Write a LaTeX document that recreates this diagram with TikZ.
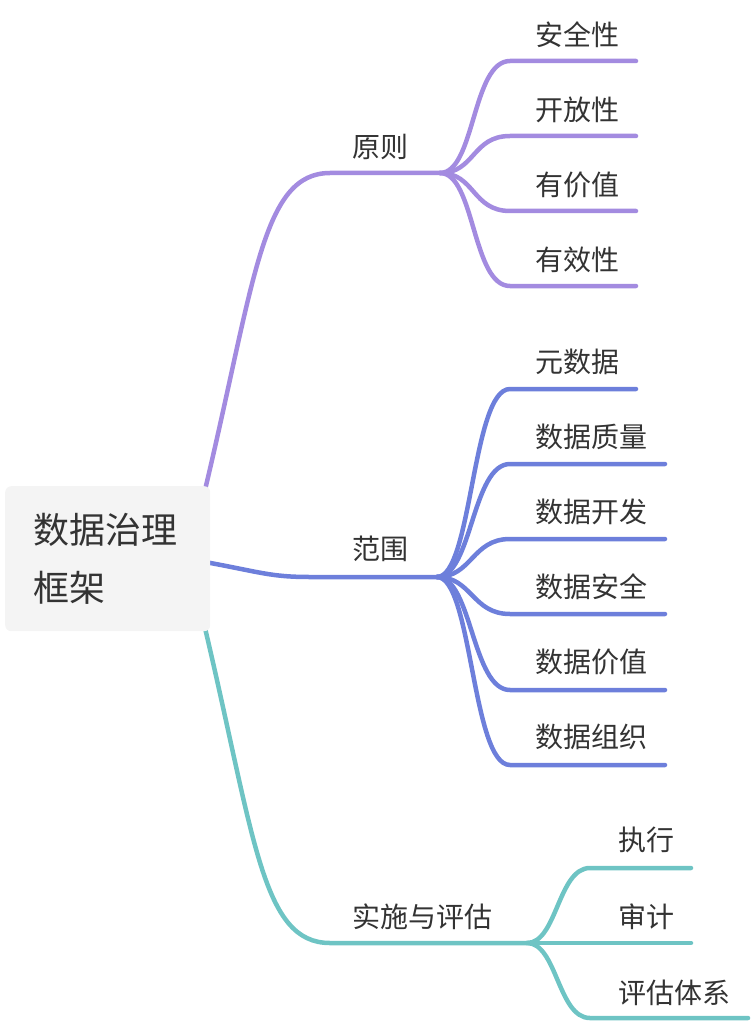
\documentclass[tikz,border=0pt]{standalone}
\usepackage{fontspec}
\setmainfont{Noto Sans CJK SC}
\definecolor{cP}{HTML}{A38BE0}
\definecolor{cB}{HTML}{6D7FDB}
\definecolor{cT}{HTML}{6EC4C4}
\definecolor{txt}{HTML}{333333}
\definecolor{rootfill}{HTML}{F4F4F4}
\begin{document}
\begin{tikzpicture}[x=1pt,y=-1pt,
  lbl/.style={anchor=west,inner sep=0pt,text=txt,font=\fontsize{28}{30}\selectfont,text height=23.2pt,text depth=2pt},
  blbl/.style={lbl,anchor=center},
  rlbl/.style={anchor=west,inner sep=0pt,text=txt,font=\fontsize{36}{40}\selectfont,text height=29.8pt,text depth=2.6pt},
  br/.style={line width=4.5pt,line cap=round},
  rootbox/.style={fill=rootfill,rounded corners=6pt,draw=none}]
\useasboundingbox (0,0) rectangle (752,1024);
% coordinates
\coordinate (rp) at (205,490);
\coordinate (rb) at (205,562);
\coordinate (rt) at (205,628);
\coordinate (hp) at (330,173);
\coordinate (jp) at (440,173);
\coordinate (hb) at (310,577);
\coordinate (jb) at (437,577);
\coordinate (ht) at (330,943);
\coordinate (jt) at (527,943);
% main branches
\draw[br,cP] (rp) .. controls (255,280) and (262,173) .. (hp) -- (jp);
\draw[br,cB] (rb) .. controls (260,572) and (270,577) .. (hb) -- (jb);
\draw[br,cT] (rt) .. controls (255,840) and (262,943) .. (ht) -- (jt);
% purple children
\foreach \n/\y/\e in {p1/61/636,p2/136/636,p3/211/636,p4/286/636}{
  \coordinate (\n s) at (510,\y);
  \coordinate (\n e) at (\e,\y);
  \draw[br,cP] (jp) .. controls +(35,0) and +(-38,0) .. (\n s) -- (\n e);
}
% blue children
\foreach \n/\y/\e in {b1/389/636,b2/464/665,b3/539/665,b4/614/665,b5/690/665,b6/765/665}{
  \coordinate (\n s) at (510,\y);
  \coordinate (\n e) at (\e,\y);
  \draw[br,cB] (jb) .. controls +(35,0) and +(-38,0) .. (\n s) -- (\n e);
}
% teal children
\foreach \n/\y/\e in {t1/868/691,t2/943/691,t3/1018/748}{
  \coordinate (\n s) at (590,\y);
  \coordinate (\n e) at (\e,\y);
  \draw[br,cT] (jt) .. controls +(30,0) and +(-32,0) .. (\n s) -- (\n e);
}
% root
\node[rootbox,minimum width=205pt,minimum height=145pt,anchor=north west] (root) at (5,486) {};
\node[rlbl] (rootA) at (33,530) {数据治理};
\node[rlbl] (rootB) at (33,588) {框架};
% branch labels
\node[blbl] (lp) at (380,147) {原则};
\node[blbl] (lb) at (380,549) {范围};
\node[blbl] (lt) at (422,917) {实施与评估};
% purple labels
\node[lbl] (lp1) at (535,35) {安全性};
\node[lbl] (lp2) at (535,110) {开放性};
\node[lbl] (lp3) at (535,185) {有价值};
\node[lbl] (lp4) at (535,260) {有效性};
% blue labels
\node[lbl] (lb1) at (535,362) {元数据};
\node[lbl] (lb2) at (535,437) {数据质量};
\node[lbl] (lb3) at (535,512) {数据开发};
\node[lbl] (lb4) at (535,587) {数据安全};
\node[lbl] (lb5) at (535,662) {数据价值};
\node[lbl] (lb6) at (535,737) {数据组织};
% teal labels
\node[lbl] (lt1) at (618,840) {执行};
\node[lbl] (lt2) at (618,917) {审计};
\node[lbl] (lt3) at (618,993) {评估体系};
\end{tikzpicture}
\end{document}
